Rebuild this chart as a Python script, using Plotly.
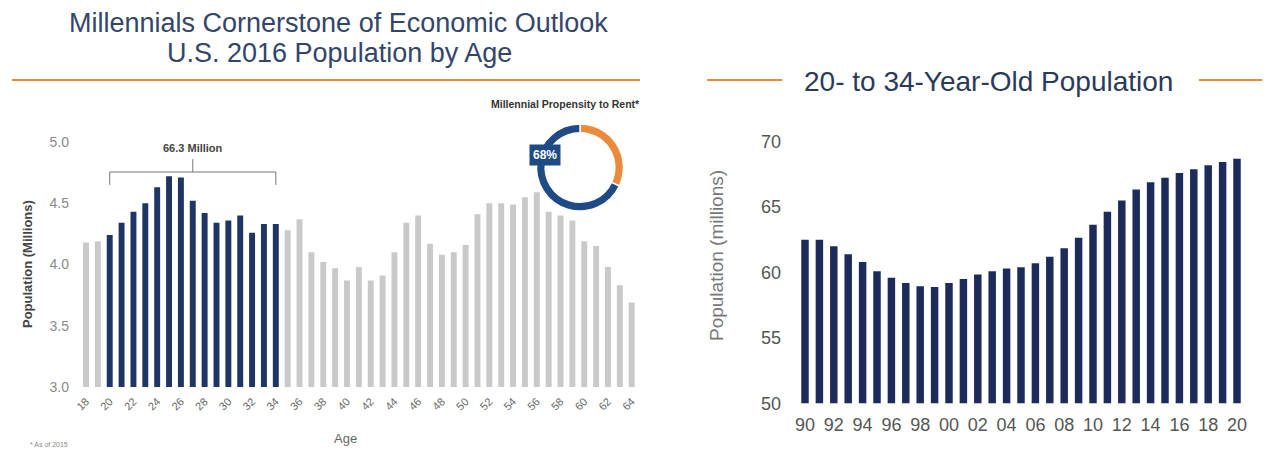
import plotly.graph_objects as go

# ---------------- data ----------------
ages = list(range(18, 65))
pop_by_age = [4.18, 4.19, 4.24, 4.34, 4.43, 4.50, 4.63, 4.72, 4.71, 4.52,
              4.42, 4.34, 4.36, 4.40, 4.26, 4.33, 4.33, 4.28, 4.37, 4.10,
              4.02, 3.97, 3.87, 3.98, 3.87, 3.91, 4.10, 4.34, 4.40, 4.17,
              4.08, 4.10, 4.16, 4.41, 4.50, 4.50, 4.49, 4.55, 4.59, 4.43,
              4.40, 4.36, 4.19, 4.15, 3.98, 3.83, 3.69]
millennial_start, millennial_end = 20, 34
age_ticks = list(range(18, 65, 2))

years = list(range(1990, 2021))
pop_20_34 = [62.5, 62.5, 62.0, 61.4, 60.8, 60.1, 59.6, 59.2, 58.95, 58.9,
             59.2, 59.5, 59.85, 60.1, 60.3, 60.4, 60.7, 61.2, 61.85, 62.65,
             63.65, 64.65, 65.5, 66.35, 66.9, 67.25, 67.6, 67.9, 68.2, 68.45,
             68.7]
year_ticks = list(range(1990, 2021, 2))
year_ticktext = [f"{y % 100:02d}" for y in year_ticks]

rent_labels = ["Other", "Rent"]
rent_values = [32, 68]

# page body has an 8px margin: figure is drawn 8px in from the window edge
OFF = 8
WIN_W, WIN_H = 1270, 456
W, H = WIN_W - 2 * OFF, WIN_H - 2 * OFF
NAVY = "#1f3563"
GRAY_BAR = "#c9c9c9"
ORANGE = "#ec8a3c"
TXT = "#666666"
FONT = "Liberation Sans"


def px(x):
    return (x - OFF) / W


def py(y):
    return 1 - (y - OFF) / H


bar_colors = [NAVY if millennial_start <= a <= millennial_end else GRAY_BAR for a in ages]

fig = go.Figure()

fig.add_trace(go.Bar(x=ages, y=pop_by_age, marker=dict(color=bar_colors, line=dict(width=0)),
                     width=0.5, xaxis="x", yaxis="y", showlegend=False))

fig.add_trace(go.Bar(x=years, y=pop_20_34, marker=dict(color="#1d2b5a", line=dict(width=0)),
                     width=0.52, xaxis="x2", yaxis="y2", showlegend=False))

fig.add_trace(go.Pie(labels=rent_labels, values=rent_values, hole=0.8, sort=False,
                     direction="clockwise", rotation=0,
                     marker=dict(colors=[ORANGE, "#1e4a86"], line=dict(color="white", width=1.5)),
                     textinfo="none", showlegend=False,
                     domain=dict(x=[px(536), px(624)], y=[py(211), py(124)])))

# left axes: age 18 at x=86, 64 at x=631.7
per_age = (631.7 - 86) / 46
lx0, lx1 = 72, 645
fig.update_layout(
    xaxis=dict(domain=[px(lx0), px(lx1)],
               range=[18 - (86 - lx0) / per_age, 64 + (lx1 - 631.7) / per_age],
               tickvals=age_ticks, ticktext=[str(a) for a in age_ticks], tickangle=-45,
               tickfont=dict(size=11, color=TXT, family=FONT), ticklabelstandoff=5,
               showgrid=False, zeroline=False, showline=False, ticks="", automargin=False,
               anchor="y"),
    yaxis=dict(domain=[py(387), py(142)], range=[3, 5], tickvals=[3, 3.5, 4, 4.5, 5],
               ticktext=["3.0", "3.5", "4.0", "4.5", "5.0"],
               tickfont=dict(size=14, color="#8a8a8a", family=FONT), ticklabelstandoff=2,
               showgrid=False, zeroline=False, showline=False, ticks="", automargin=False,
               anchor="x"),
)

# right axes: 1990 at x=805, 2020 at x=1237
per_year = (1237 - 805) / 30
rx0, rx1 = 786, 1256
fig.update_layout(
    xaxis2=dict(domain=[px(rx0), px(rx1)],
                range=[1990 - (805 - rx0) / per_year, 2020 + (rx1 - 1237) / per_year],
                tickvals=year_ticks, ticktext=year_ticktext,
                tickfont=dict(size=18, color="#555555", family=FONT), ticklabelstandoff=9,
                showgrid=False, zeroline=False, showline=False, ticks="", automargin=False,
                anchor="y2"),
    yaxis2=dict(domain=[py(403.3), py(141.7)], range=[50, 70], tickvals=[50, 55, 60, 65, 70],
                tickfont=dict(size=18, color="#555555", family=FONT), ticklabelstandoff=4,
                showgrid=False, zeroline=False, showline=False, ticks="", automargin=False,
                anchor="x2"),
)


def note(text, x, y, size, color, **kw):
    d = dict(text=text, x=px(x), y=py(y), xref="paper", yref="paper", showarrow=False,
             xanchor="center", yanchor="middle", font=dict(size=size, color=color, family=FONT))
    d.update(kw)
    return d


annotations = [
    note("Millennials Cornerstone of Economic Outlook", 338, 23, 27, "#33456b"),
    note("U.S. 2016 Population by Age", 339, 53, 27, "#33456b"),
    note("20- to 34-Year-Old Population", 988, 81, 28, "#2b3a5a"),
    note("<b>Millennial Propensity to Rent*</b>", 565, 104, 10.5, "#333333"),
    note("<b>68%</b>", 545, 155, 12, "white", bgcolor="#1e4a86", borderpad=3),
    note("* As of 2015", 28, 444, 7, "#888888", xanchor="left"),
    note("<b>Population (Millions)</b>", 27, 264, 13, "#444444", textangle=-90),
    note("Age", 345, 438, 13, TXT),
    note("Population (millions)", 717, 256, 19, "#777777", textangle=-90),
    dict(text="<b>66.3 Million</b>", x=27, y=4.95, xref="x", yref="y", showarrow=False,
         xanchor="center", yanchor="middle",
         font=dict(size=11, color="#444444", family=FONT)),
]
fig.update_layout(annotations=annotations)

shapes = [
    dict(type="line", xref="paper", yref="paper", x0=px(12), x1=px(640), y0=py(80), y1=py(80),
         line=dict(color=ORANGE, width=2)),
    dict(type="line", xref="paper", yref="paper", x0=px(707), x1=px(782), y0=py(80), y1=py(80),
         line=dict(color=ORANGE, width=2)),
    dict(type="line", xref="paper", yref="paper", x0=px(1199), x1=px(1262), y0=py(80), y1=py(80),
         line=dict(color=ORANGE, width=2)),
    dict(type="path", xref="x", yref="y",
         path=f"M {millennial_start},4.65 L {millennial_start},4.755 L {millennial_end},4.755 L {millennial_end},4.65",
         line=dict(color="#777777", width=1)),
    dict(type="line", xref="x", yref="y", x0=27, x1=27, y0=4.755, y1=4.86,
         line=dict(color="#777777", width=1)),
]
fig.update_layout(shapes=shapes)

fig.update_layout(width=W, height=H, margin=dict(l=0, r=0, t=0, b=0, pad=0),
                  paper_bgcolor="white", plot_bgcolor="white", bargap=0.5)

fig.write_html("out.html")
